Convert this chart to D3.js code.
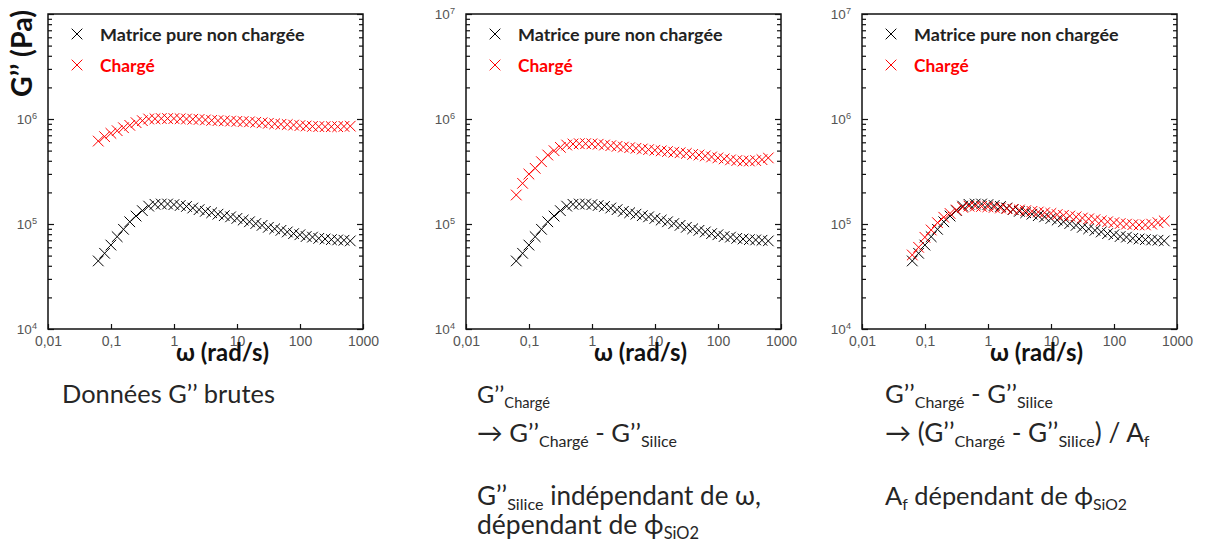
<!DOCTYPE html>
<html><head><meta charset="utf-8">
<script src="https://cdn.jsdelivr.net/npm/d3@7"></script>
<style>body{margin:0;background:#fff;} svg{display:block;}</style>
</head><body>
<svg id="c" width="1210" height="552"></svg>
<script>
// ---------- data ----------
const omega = [0.0628, 0.0791, 0.0996, 0.1253, 0.1578, 0.1986, 0.25, 0.3148, 0.3963, 0.4989,
  0.628, 0.791, 0.996, 1.253, 1.578, 1.986, 2.5, 3.148, 3.963, 4.989,
  6.28, 7.91, 9.96, 12.53, 15.78, 19.86, 25.0, 31.48, 39.63, 49.89,
  62.8, 79.1, 99.6, 125.3, 157.8, 198.6, 250.0, 314.8, 396.3, 498.9, 628];
const gMatrice = [44500, 52600, 63000, 75700, 89000, 105000, 119000, 134000, 148000, 154000,
  155000, 155000, 153000, 150000, 147000, 142000, 137000, 132000, 128000, 124000,
  120000, 117000, 113000, 109000, 105000, 101000, 97000, 93000, 90000, 87000,
  84000, 81000, 79000, 76000, 75000, 73000, 72000, 71000, 70500, 70000, 69000];
const gChargeBrut = [616000, 679000, 730000, 774000, 826000, 870000, 923000, 964000, 1000000, 1005000,
  1010000, 1010000, 1010000, 1005000, 1000000, 995000, 990000, 980000, 970000, 965000,
  960000, 955000, 950000, 945000, 940000, 930000, 920000, 910000, 900000, 890000,
  885000, 875000, 865000, 858000, 850000, 847000, 845000, 845000, 845000, 850000, 855000];
const gChargeMoinsSilice = [189000, 244000, 299000, 339000, 392000, 454000, 499000, 537000, 565000, 578000,
  582000, 582000, 580000, 575000, 565000, 557000, 549000, 540000, 533000, 526000,
  518000, 511000, 504000, 497000, 490000, 483000, 477000, 470000, 460000, 454000,
  445000, 435000, 426000, 417000, 408000, 402000, 398000, 398000, 402000, 410000, 426000];
const gChargeNormalise = [50700, 60000, 74700, 87700, 103000, 116000, 126000, 136000, 144000, 148000,
  148000, 147000, 146000, 144000, 142000, 140000, 138000, 136000, 134000, 132000,
  130000, 128000, 126000, 123000, 121000, 119000, 117000, 114000, 112000, 110000,
  107000, 105000, 103000, 101000, 99700, 98500, 98000, 98000, 99700, 103000, 107000];
const xTickValues = [0.01, 0.1, 1, 10, 100, 1000];
const xTickLabels = ["0,01", "0,1", "1", "10", "100", "1000"];
const yTickValues = [1e4, 1e5, 1e6, 1e7];
const legendLabels = ["Matrice pure non chargée", "Chargé"];
const seriesColors = ["#000000", "#ff0000"];
const xTitle = "ω (rad/s)";
const yTitle = "G’’ (Pa)";

// ---------- layout ----------
const svg = d3.select("#c");
const TOP = 14, H = 315, W = 315;
const panels = [
  {left: 48, red: gChargeBrut, top7: false, yTitle: true},
  {left: 466, red: gChargeMoinsSilice, top7: true},
  {left: 862, red: gChargeNormalise, top7: true}
];
const TXT = "Lato, 'Open Sans', sans-serif";
const TICKF = "'Liberation Sans', Arial, sans-serif";
const sym = d3.symbol(d3.symbolX, 76);

function fitText(parent, build, targetW, base) {
  let t = build(parent, base);
  const w = t.node().getBBox().width;
  t.remove();
  return build(parent, base * targetW / w);
}

panels.forEach(p => {
  const x = d3.scaleLog().domain([0.01, 1000]).range([p.left, p.left + W]);
  const y = d3.scaleLog().domain([1e4, 1e7]).range([TOP + H, TOP]);
  const g = svg.append("g");
  const minor = y.ticks().filter(v => Math.abs(Math.log10(v) - Math.round(Math.log10(v))) > 1e-9);

  const styleAxis = a => {
    a.select(".domain").remove();
    a.selectAll(".tick line").attr("stroke", "#111").attr("stroke-width", 1.2);
    a.attr("font-family", TICKF).attr("font-size", 14);
    a.selectAll(".tick text").attr("fill", "#555");
  };
  // left
  g.append("g").attr("transform", `translate(${p.left},0)`)
    .call(d3.axisLeft(y).tickValues(yTickValues).tickSize(-6).tickPadding(11).tickFormat(() => ""))
    .call(styleAxis)
    .call(a => a.selectAll(".tick text").attr("font-size", 13.5).each(function(d) {
      if (!p.top7 && d === 1e7) return;
      const t = d3.select(this);
      t.append("tspan").text("10");
      t.append("tspan").attr("dy", "-0.5em").attr("font-size", "0.68em").text(Math.round(Math.log10(d)));
    }));
  g.append("g").attr("transform", `translate(${p.left},0)`)
    .call(d3.axisLeft(y).tickValues(minor).tickSize(-4).tickFormat(() => ""))
    .call(styleAxis);
  // right
  g.append("g").attr("transform", `translate(${p.left + W},0)`)
    .call(d3.axisRight(y).tickValues(yTickValues).tickSize(-6).tickFormat(() => ""))
    .call(styleAxis);
  g.append("g").attr("transform", `translate(${p.left + W},0)`)
    .call(d3.axisRight(y).tickValues(minor).tickSize(-4).tickFormat(() => ""))
    .call(styleAxis);
  // bottom
  g.append("g").attr("transform", `translate(0,${TOP + H})`)
    .call(d3.axisBottom(x).tickValues(xTickValues).tickSize(-5).tickPadding(7)
      .tickFormat((d, i) => xTickLabels[i]))
    .call(styleAxis);
  // frame
  g.append("rect").attr("x", p.left).attr("y", TOP).attr("width", W).attr("height", H)
    .attr("fill", "none").attr("stroke", "#111").attr("stroke-width", 1.5);

  // data
  [gMatrice, p.red].forEach((vals, si) => {
    g.append("g").selectAll("path")
      .data(omega.map((w, i) => ({w, v: vals[i]})))
      .join("path")
      .attr("transform", d => `translate(${x(d.w)},${y(d.v)})`)
      .attr("d", sym)
      .attr("fill", "none").attr("stroke", seriesColors[si]).attr("stroke-width", 1);
  });

  // legend
  legendLabels.forEach((lab, i) => {
    const ly = 34 + i * 31;
    g.append("path").attr("transform", `translate(${p.left + 29},${ly})`).attr("d", sym)
      .attr("fill", "none").attr("stroke", seriesColors[i]).attr("stroke-width", 1);
    const target = i === 0 ? 205 : 55;
    fitText(g, (par, fs) => par.append("text").attr("x", p.left + 52).attr("y", ly + 7)
      .attr("font-family", TXT).attr("font-weight", 700).attr("font-size", fs)
      .attr("fill", i === 0 ? "#222" : "#ff0000").text(lab), target, 20);
  });

  // x title
  fitText(g, (par, fs) => par.append("text").attr("x", p.left + W / 2 + 17).attr("y", 361)
    .attr("text-anchor", "middle").attr("font-family", TXT).attr("font-weight", 700)
    .attr("font-size", fs).attr("fill", "#111").text(xTitle), 93, 24);

  if (p.yTitle) {
    fitText(g, (par, fs) => par.append("text").attr("transform", "translate(32,53.5) rotate(-90)")
      .attr("text-anchor", "middle").attr("font-family", TXT).attr("font-weight", 700)
      .attr("font-size", fs).attr("fill", "#111").text(yTitle), 87, 24);
  }
});

// ---------- annotation text ----------
function richLine(x0, yb, segs, targetW) {
  const build = (par, fs) => {
    const t = par.append("text").attr("x", x0).attr("y", yb)
      .attr("font-family", TXT).attr("font-size", fs).attr("fill", "#262626");
    let cur = 0;
    const sh = fs * 0.2;
    segs.forEach(([s, sub]) => {
      const ts = t.append("tspan").text(s);
      if (sub) { ts.attr("font-size", fs * 0.62).attr("dy", sh - cur); cur = sh; }
      else { ts.attr("dy", -cur); cur = 0; }
    });
    return t;
  };
  fitText(svg, build, targetW, 26);
}
richLine(62, 403, [["Données G’’ brutes", 0]], 213);

richLine(477, 403, [["G’’", 0], ["Chargé", 1]], 73);
richLine(477, 442, [["→ G’’", 0], ["Chargé", 1], [" - G’’", 0], ["Silice", 1]], 200);
richLine(477, 505, [["G’’", 0], ["Silice", 1], [" indépendant de ω,", 0]], 284);
richLine(477, 534, [["dépendant de ϕ", 0], ["SiO2", 1]], 222);

richLine(885, 403, [["G’’", 0], ["Chargé", 1], [" - G’’", 0], ["Silice", 1]], 168);
richLine(885, 442, [["→ (G’’", 0], ["Chargé", 1], [" - G’’", 0], ["Silice", 1], [") / A", 0], ["f", 1]], 265);
richLine(885, 505, [["A", 0], ["f", 1], [" dépendant de ϕ", 0], ["SiO2", 1]], 242);
</script>
</body></html>
